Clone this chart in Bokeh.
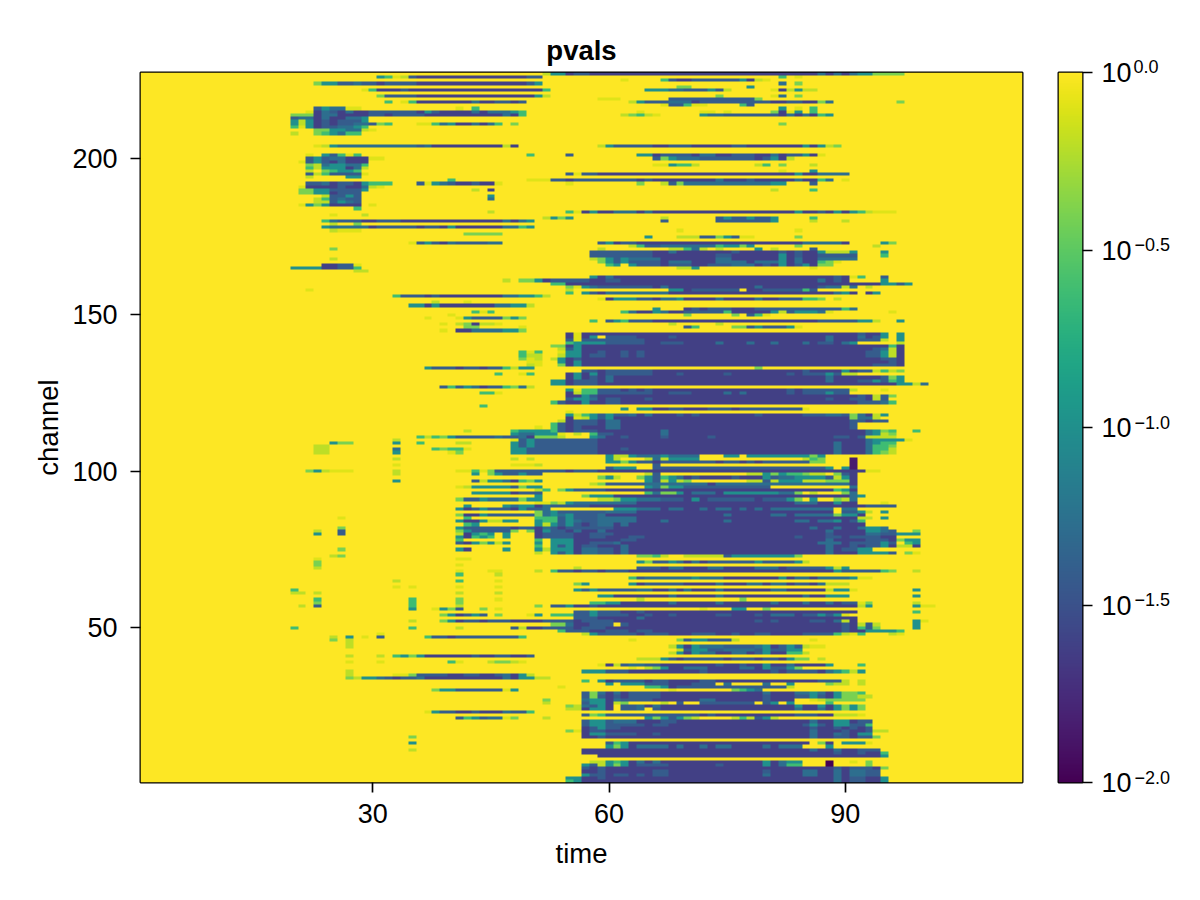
import numpy as np
from bokeh.embed import file_html
from bokeh.layouts import row
from bokeh.models import LinearAxis, LinearColorMapper, Range1d, FixedTicker
from bokeh.palettes import Viridis256
from bokeh.plotting import figure
from bokeh.resources import INLINE

TIMES = 112
CHANNELS = 227
X_TICKS = [30, 60, 90]
Y_TICKS = [50, 100, 150, 200]
CB_TICKS = [-2.0, -1.5, -1.0, -0.5, 0.0]
CB_EXP = ["\u22122.0", "\u22121.5", "\u22121.0", "\u22120.5"]
CB_TOP_EXP = "0.0"

# log10(p) of the letter codes used in the rows below
LEVELS = {"Y": 0.0, "P": -0.1, "H": -0.2, "L": -0.4, "G": -0.62, "T": -1.0,
          "B": -1.28, "M": -1.42, "D": -1.62, "V": -1.85, "A": -2.0}

ROWS_TOP = [
 (227, "52H 53-54T 55D 56-57M 58-86D 87B 88D 89B 90D 91B 92-93T 94-97L"),
 (226, "31T 32G 33P 34H 35M 36-49D 50-51M 82G 84P"),
 (225, "62P 67G 68M 69-70D 71-76M 77T 78D 79H 80P"),
 (224, "23L 24-25T 26-27M 28B 29-30M 31D 32-35M 36-49D 50M 51T 82B 84L"),
 (223, "69-70L 78T"),
 (222, "29P 30G 31-33D 34M 35-51D 52G 65-67T 68-69B 70-72M 73T 74M 75H 81P 82D 83H 84T 85-86H"),
 (220, "31L 32-35M 36-50D 51T 52H 74L 81P 82B 84L"),
 (219, "59-61P 68-78M 79L"),
 (218, "32G 34P 35G 36-42D 43B 44-45D 46-47M 48D 49M 63H 64T 65-67M 68-70B 71D 72-80M 81-82D 83-84M 85-86D 87L 88B 97L"),
 (217, "67P 68-69M 70G 71-72P 77G 78M"),
 (216, "23M 24T 25-26B 27-28P 41P 43G 82T 84P 86G"),
 (215, "22P 23D 24B 25M 26D 27B 28-29D 30-35M 36D 37T 38M 39-42D 43B 44D 45-47B 48T 49G 64P 72-73P 75P 81L 82D 83P 84T 86G"),
 (214, "20-22L 23D 24-25B 26-29D 30-31M 32D 33-36M 37-46D 47B 48D 49G 62H 63L 64G 65H 66P 72T 73-74B 75-81M 82D 83B 84D 85B 86D 87G 88T"),
 (213, "20M 21-22B 23D 24B 25-26D 27-28B 29T"),
 (212, "20T 21H 22T 23D 24M 25D 26-28M 29T"),
 (211, "20T 21H 22T 23D 24M 25D 26-27M 28-29B 30M 31L 32G 36-37P 38G 39B 40T 41-42D 43B 44D 45B 46G 48L 82L"),
 (210, "20G 21P 22T 23D 24-25M 26-27B 28T 29G"),
 (209, "23-24L 25-26T 27-28B 29H 30P"),
 (208, "20H 23L 24G 25T 26B 27-28G"),
 (204, "23P 24H 25T 26-35B 36M 37B 38-46D 47H 48D 59H 60T 61-65M 66-67D 68-70M 71-75D 76-77M 78-84D 85T 86D 87T 88H 89L"),
 (201, "22P 24T 25M 26G 27P 28G 50G 55M 64-65T 66D 67-70M 71D 72-73B 74-75D 76-78M 79-80D 81B 82D 83-84M 85T 86D 87P"),
 (200, "22M 23T 24M 25-26B 27-29D 30-31P 66M 67L 68T 69-71B 72-78M 79D 80M 81T 82D 83H"),
 (199, "21P 22M 23T 24M 25D 26B 27-29D"),
 (198, "22L 23H 24B 25-26T 27-28B 29G 66-67P 68T 69-70G 71H 79H 80G 82L 86H"),
 (197, "22G 23H 24-26T 27D 28B 29H"),
 (196, "22H 24L 25G 26-27T 28G 82P 86T"),
 (195, "22M 23H 24G 25-28M 29P 55M 56P 57-58M 59-83D 84T 85-86D 87-90B"),
 (194, "22H 27-28T"),
 (193, "40G 50-52P 53-54M 55D 56-63M 64D 65M 66-73D 74B 75-77D 78M 79-83D 84B 85-86D 87G 88B 90P"),
 (192, "22-23M 24B 25D 26-27M 28D 29T 30-32G 36M 37P 38T 39B 40M 41-42D 43M 44-45D 46P 55P 64L 67H 68M 69L 70-80B 81-82T 86M"),
 (191, "21P 22-25D 26M 27-28D 29B 30H 31P"),
 (190, "21-22L 23-24T 25-28M 29T 43H 45D 81H 86G"),
 (189, "21-22L 23-24T 25D 26-28M"),
 (188, "24H 25-26M 27T 28M 45T"),
 (187, "23H 24G 25M 26B 27-28M 45B"),
 (186, "23-24H 25M 26T 27B 28M"),
 (185, "21P 22T 23L 24T 25-28D 30P"),
 (184, "28G"),
 (183, "45H 55G 56P 57D 58T 59-60D 61-63B 64D 65B 66-83D 84T 85-86D 87M 88D 89T 90D 91T 92G 93H 94-96P"),
 (182, "25P 29H"),
 (181, "52H 53T 54L 55T 67H 74M 75T 76-77M 78T 79-80M 81T 86G"),
 (180, "24G 25B 26-28M 29-30D 31-33M 34-46D 47B 48D 49B 50T 67M 74-80M 81T 86H 90H"),
 (179, "25H 28L"),
 (178, "24T 25-29B 30D 31-35M 36D 37-38M 39D 40T 41-46D 47-48B 49G 50T"),
 (177, "25H 26-28P 69P 84P"),
 (176, "42-46L"),
 (175, "65T 69-71H 72-73M 74L 75T 76M 77-78P 84L"),
 (173, "35P 36M 37T 38M 39D 40B 41-44M 45-46B 59M 60T 61D 62-63M 64-84D 85-89B 90D 95T 96L"),
 (172, "63H 64G 65-66M 67-73B 74G 75-76T 77L 78T 84L 94H"),
 (171, "25L 59H 68-69H 70G 71B 72H 74H 79T 81H 86M"),
 (170, "58-65M 66-67D 68B 69-75D 76M 77-81D 82M 83D 84M 85-86D 87T 88-90H 91T 95T"),
 (169, "58-65M 66-73D 74-75M 76-81D 82T 83D 84M 85-86D 87-91M 95G"),
 (168, "25H 58H 59L 60T 61M 62T 63-66B 67-73D 74-75B 76-81D 82T 83D 84B 85-86D 87-91B"),
 (167, "59L 60T 61M 62T 63-66M 67D 68-70B 71-73D 74-77B 78D 79-81B 82T 83D 84B 85-86D 87G 88L 89P"),
 (166, "24-25D 26-27M 28P 60G 61T 63T 64-66M 67D 68-70M 71-72D 73-75M 76-78B 79D 80M 81D 82T 83D 84M 85T 86D 87-88L"),
 (165, "20-23T 24-25D 26-27M 28G 69-70H 71T 86P"),
 (164, "28-29H"),
 (162, "58T 59D 60B 61-88D 89M 90D 91P 92G 95M"),
 (161, "47H 49-50L 51T 52D 53-57M 58-59D 60-61M 62-86D 87B 88D 89M 90D 95T"),
 (160, "53-54G 55-94D 95-96T 97M 98T"),
 (159, "55L 56P 57T 58B 59-65M 66D 67B 68-78D 79B 80-86D 87M 88-89B 90H 91B 93H"),
 (158, "22P 55H 68-69T 70D 71-76M 78-79D 80-84M 85G 86M"),
 (157, "55G 57T 58M 59D 60-67B 68-88D 89B 90T 91D 93D 94T"),
 (156, "33G 34-36M 37D 38M 39-46D 47-48B 49-50T 51G 52H"),
 (155, "59P 60D 61-63T 64-65M 66D 67-68B 69T 70-73D 74B 75-78D 79B 80-81D 82-84M 85-86G 87L 89H"),
 (154, "38H 42P"),
 (153, "35-36T 37D 38T 39-45D 46-47B 48-49T 50H"),
]

ROWS_MID = [
 (152, "66T 70D 71M 72D 73-75M 76-78D 79-89M 90G 91B"),
 (151, "43G 44P 45G 62G 63B 64-65D 66T 67B 68-69D 70-74M 75G 76-80D 81T 82H 83M 84-86T 87B 88P 96P"),
 (150, "40P 70L 76L 78M 79G 80P"),
 (149, "37P 41P 42T 43-46M 47L 48T 49L"),
 (148, "58G 60M 61T 62G 63-65M 66-86D 87-91M 92-93T 94H 97T"),
 (147, "39P 41H 42L 43D 44-45H 46P 68H 74H"),
 (146, "42-43L 49P 70M 71G 76-77L 78M 79T 80-82M 83T 84P"),
 (145, "39P 41-42D 43-46B 47-48T 49L"),
 (144, "55D 56P 57-91D 92M 93-94D 95T 97T"),
 (143, "55D 56P 57D 58T 59Y 60-63M 64-67D 68M 69-87D 88B 89-91D 92B 93D 94M 95T 97T"),
 (142, "55M 56P 57-64M 65-87D 88B 89-91D 92-94M 95H 97T"),
 (141, "55G 56-59T 60-64M 65-66D 67-69M 70-73D 74B 75-77D 78B 79-80D 81B 82-84D 85B 86D 87-88M 89D 90B 91T 97H"),
 (140, "53-54L 55D 56T 57-95D 96G 97D"),
 (139, "54H 55M 56T 57-93D 94M 95B 96H 97D"),
 (138, "49G 50P 51G 54P 55-56T 57-92D 59M 62M 64M 93-94M 95T 96H 97D"),
 (137, "49G 50-51H 54H 55-56T 57D 58-59M 60-92D 62M 64M 93-94M 95T 96H 97D"),
 (136, "49L 50P 51H 53H 54T 55D 56M 57-94D 95-96M 97D"),
 (135, "50-51P 54T 55D 56T 57-95D 96M 97D"),
 (134, "50H 51P 54L 55D 56T 57-93D 94-96M 97D"),
 (133, "37T 38-40M 41D 42-43M 44D 45-46M 47G 48H 49-50T 79L"),
 (132, "57-58M 59D 60-65M 66-84D 85M 86-89D 90T 91D 92-93M 94H 95G 96H 97L"),
 (131, "46G 49P 50G 55D 56T 57D 58T 59D 60-65M 66-68D 69M 70-74D 75M 76-82D 83M 84D 85-87M 88T 89M 90-91H"),
 (130, "55D 56T 57D 58M 59-94D 60B 88B 95M 96L 97T"),
 (129, "53-54T 55D 56-58M 59-91D 60B 88B 92-93M 94T 95M 96G 97T"),
 (128, "53-54T 55D 56-58M 59-96D 97-98T 99H 100B"),
 (127, "39M 40G 41M 42T 43B 44D 45-46M 47G 48L 49B 50H"),
 (126, "55T 56P 57-58G 59-61M 62D 63M 64D 65M 66-82D 83M 84D 85-90M 91H 95P"),
 (125, "44-45G 46P 55D 56H 57-58G 59-65M 66-67D 68-70M 71-74D 75B 76D 77B 78-82D 83M 84D 85-87M 88T 89-90M"),
 (124, "55-56D 57T 58M 59-91D 92M 93D 94H 95M 96L"),
 (123, "55M 56-57T 58B 59D 60-61M 62-64D 65M 66-87D 88M 89-90D 91-92M 93D 94H 95M"),
 (122, "53G 54M 55-56D 57T 58-91D 60-61M 92-94M 95B 96G"),
 (121, "44G"),
 (120, "62T 64-65T 66-67D 68-69M 70-72D 73-75M 76D 77-84M 85P"),
 (119, "55P"),
 (118, "55T 56H 57G 58T 59M 60T 61-62M 63B 64D 65B 66-68D 69M 70D 71M 72-78D 79M 80-84D 85-87M 88-89B 90M 91L 92B 93D 94H 95T"),
 (117, "55D 56P 57H 58T 59M 60T 61-90D 91L 92-93B 94H"),
 (116, "54H 55D 56-58M 59D 60-61B 62-90D 91-92M 93D 94-95M"),
 (115, "53G 54M 55D 56-58M 59D 60-61B 62-90D 91M"),
 (114, "51P 53G 54M 55D 56M 57-59D 60-61B 62-90D 91M"),
 (113, "42H 48G 49-52T 53G 54M 55D 56-58M 59-66D 67B 68-92D 93B 94T 95L 96G 99G"),
 (112, "48T 49-50B 51-53T 54P 56H 58G 59-60M 61-66D 67B 68-92D 93B 94T 95H 96L"),
 (111, "36G 37H 38G 39L 40T 41-45M 46B 47-48M 49B 50D 51-53L 54H 58T 59B 60-61D 62M 63-66D 67M 68-72D 73M 74-88D 89-90M 91D 92M 93-96H"),
 (110, "33H 48P 49M 50T 51-58M 59-92D 93B 94-97T 98P"),
 (109, "25T 26-27L 33T 36G 41-42H 48T 49M 50T 51-58M 59-88D 89B 90-92D 93B 94T 95-96G"),
 (108, "23-24H 48T 49M 50T 51-58M 59-88D 89B 90-92D 93B 94-95G 96L"),
 (107, "23-24H 33B 38G 39L 40-41G 42P 48-49T 50-58M 59-61D 62M 63-88D 89B 90-92D 93B 94-95G 96H"),
 (106, "23-24H 33T 40P 41L 48-49T 50-58M 59-88D 89B 90-92D 93B 94G 95L 96H"),
 (105, "60T 61-62H 63T 64-66B 67T 68-71B 75-76T 78-85T 86L 87T"),
 (104, "33H 48H 50H 60T 61H 65H 66B 67H 68-71T 85H 86G 87L 91V"),
 (103, "60-61T 62L 63T 64-65M 66D 67-73M 74D 75-76M 77D 78M 79D 80-85M 86-87L 91V"),
 (102, "33P 48-50P 51H 66M 91V"),
 (101, "60M 61-63T 66M 67-87M 88T 90T 91V"),
 (100, "22L 23T 24H 25-27P 33H 41-42P 43G 44P 45L 46-54M 55D 56-58M 59-92D 93-94P"),
 (99, "33H 43T 45L 46T 47-48M 49T 50-51M 65H 66M 78-79H 80T 81L 82T 83-84G 85L 86-87H 89L 90M 91D"),
 (98, "59L 60T 61H 64L 65T 66M 67G 68T 69B 70D 71M 72-75D 76M 77-79D 80T 81M 82-83B 84-87T 88M 89H 90T 91D"),
 (97, "33T 43M 44H 45-46T 47B 48D 49G 50L 51T 65T 66M 67H 68T 69H 70L 78-79H 80M 81H 82-84T 85-87H 88-90L 91D"),
 (96, "58H 59L 60-64M 65-72B 73D 74-90B 91D"),
 (95, "41P 42H 43-47T 48M 49L 50-51T 65T 66B 67L 68-69T 70-80M 91B"),
 (94, "51H 52G 54L 55T 56-59M 60-88D 89G 90T 91D"),
 (93, "43-47T 48D 49-51M 65G 66B 67-68L 69T 70D 71-73B 74D 75-81T 82-83B 84L 86H 90L 91B"),
 (92, "51T 57L 58-60T 61-90D 91B 92T"),
 (91, "41L 42-43M 44T 45-48B 49L 50-51T 59-60H 61L 62-63T 64-66B 67-69M 70D 71T 72D 73-78M 79D 80-82M 83T 84L 86T 89L 90H 91B"),
 (90, "51-52P 53L 54H 55T 56-63B 64-83D 84-86B 87-88D 89T 90-91D 95P"),
 (89, "42T 47T 48B 49-50T 51D 52B 53-57M 58-92D 93-96M"),
 (88, "41T 42D 43M 44T 45-47M 48D 49T 50-51M 52B 61-63T 64-66B 67D 68-69B 70-71D 72B 73D 74-75B 76D 77B 78D 79B 80D 81-88B 90-91B"),
 (87, "51L 52B 53T 54-58M 59M 60-63B 64-88D 90-91M 92T 93H 95T"),
 (86, "41L 42-43D 44T 45-50M 51L 52B 53T 54B 55T 56-58M 59B 60-74D 75B 76-80D 81-82B 83D 84-88B 89L 90-91T 92D"),
 (85, "26P 42G 51-53G 54M 55T 56-58M 59-63B 64-91D 92-93H 95T"),
 (84, "41T 42-43D 44T 45-46H 47-48T 51T 52-53G 54M 55T 56B 57-58M 59-63B 64-66D 67B 68-74D 75B 76-83D 84-85B 86D 87-88B 89T 90D 91M 92G"),
 (83, "42G 43T 51T 52H 53T 54M 55T 56M 57D 58M 59-60B 61D 62B 63-92D"),
 (82, "26L 41T 42-47M 48D 49-50M 51D 52B 53M 54D 55-60M 61-85D 86B 87-88D 89B 90-91D 92B 93-94T 95B"),
 (81, "23H 26M 41L 42T 43-47M 48L 50L 51D 52T 53-54M 55D 56B 57-58D 59B 60-87D 88B 89-92D 93-94T 95B 96M 99L"),
 (80, "23T 26M 41H 42D 43T 44G 45T 47T 51D 52-55M 56-57D 58-60M 61-87D 88M 89-92D 93-94B 95-96M 97-99T"),
 (79, "41T 42D 43G 44T 45G 47T 51D 52-55M 56-57D 58-59M 60-62D 63-64M 65-83D 84M 85-87D 88-89M 90D 91-94M 95-96D"),
 (78, "41G 51G 53-55T 56-61D 62-63M 64-87D 88B 89-92D 93-95M 96D 97L 98-99T"),
]

ROWS_LOW = [
 (77, "41M 42D 43T 44L 45T 46H 47T 51T 53-55T 56-57D 58-60M 61B 62-86D 87-89B 90D 91-94M 95T 96M 98G 99T"),
 (76, "51G 53T 54M 55T 56D 57-58M 59-61D 62B 63-87D 88B 89-90D 91M 92D 93-94M 95T 96D 97-98H 99D"),
 (75, "26L 41T 42D 47T 51T 52H 53-55T 56D 57-58B 59-60M 61D 62B 63-87D 88B 89D 90-91M 92-93T"),
 (74, "51H 53T 54M 55T 56D 57-58B 59-60M 61D 62B 63-87D 88B 89D 90-91D 92-95T 96M 98L 99P"),
 (73, "25H 26L 64-65L 66G 67H 70-74H 75M 76T 77-82T 83T 84L"),
 (72, "23P 41-42P"),
 (71, "23L 64T 65L 66-67M 68T 69B 70D 71B 72D 73-78M 79T 80-83M 84T 85H"),
 (70, "23L 41P"),
 (69, "23H 56H 64-66M 67D 68-69B 70-72D 73-74B 75-78D 79-81B 82D 83-87M 88T 89H 90T"),
 (68, "41P 45-46P 51H 53G 54-55M 56D 57-58M 59D 60-62M 63-87D 88D 89T 90-94M 95G 96L 99H"),
 (67, "41G 46H"),
 (66, "63G 64M 65-70B 71T 72-74B 75-81D 82T 83D 84-85B 86D 87-90B 91T 92-93P"),
 (65, "33H 41G 46P"),
 (64, "56L 57T 63T 64D 65-69M 70-73D 74B 75-77D 78-79B 80D 81-82B 83D 84-85M 86D 87B 88H 89-90H"),
 (63, "33P 35P 41P 46P"),
 (62, "20G 56T 57M 58T 59-63M 64-65B 66-67D 68B 69D 70B 71-73D 74B 75-80D 81-82B 83-87D 88H 89-90T 91P 99T"),
 (61, "20-21H 23H 41H 46H"),
 (60, "59-60T 61-67D 68B 69-73D 74B 75-84D 85B 86-87D 88-90T 99T"),
 (59, "23G 35G 41L 46P 64H 77L"),
 (58, "23L 35G 41L 58-59G 60-61T 62-67D 68B 69-73D 74B 75-80D 81B 82-84D 85B 86-87D 88B 89D 90-91M 92P 93L 99H"),
 (57, "21H 23M 35G 41H 51L 53-54M 55T 56-57D 58M 59-91D 92H 93T 99T 100-101P"),
 (56, "35T 38P 39T 40L 41M 44L 46P 72P 76-77T 80L"),
 (55, "56-57M 58T 59-91D 59-61M 64M 99G"),
 (54, "39L 40T 41D 42M 43T 44M 46L 50P 51T 53-55G 56-57M 58T 59-62M 63-64D 65M 66-67D 68M 69-73D 74-75M 76-78D 79M 80D 81-83B 84D 85-86M 87T 88M 89T 90P"),
 (53, "56-58M 59-91D 64B"),
 (52, "35H 39L 40T 41D 42-43M 44D 45-47M 48-51D 52-55M 56D 57-60M 61-78D 79M 80D 81M 82-85D 86-87M 88D 89B 90H 91D 99T 100P"),
 (51, "53-54L 55B 56-57D 58-60M 62M 63-89D 90M 91D 92H 93M 94H 99T"),
 (50, "20G 35G 41H 48M 49H 50-51D 52-55M 56D 57-59M 60D 61-89D 90M 91D 92G 93M 94L 99T"),
 (49, "54G 55-57M 58-59D 60-62M 63D 64-65M 66-89D 90M 91-92D 93-96T 97G"),
 (48, "31P 57H 58T 59-60M 61-63M 64D 65-67M 68-70D 71-73M 74-75D 76M 77-78D 79-80M 81-84D 85-88M 89G 90H 91P 92G 96H 97P"),
 (47, "25H 27T 29P 31M 37G 38-39M 40D 41-48M 49G"),
 (46, "25L 27H 63P 69L 70M 71-72T 73-75M 76H 86P"),
 (45, "27H"),
 (44, "27H 68H 69T 70D 71T 72-74B 75-78M 79B 80T 81D 82M 83T 84M 85H 86-87P"),
 (43, "69H 70M 71-72T 73-74M 75-78B 79M 80T 81-82M 83-84T"),
 (42, "68H 69T 70D 71T 72-73B 74-75D 76-77B 78D 79M 80T 81-82D 83-84G 85H"),
 (41, "27H 31H 33G 34T 35L 36T 37-42D 43M 44-45D 46-47M 48-49D 50M"),
 (40, "64-66H 67T 68M 69D 70-74M 75D 76-78M 79D 80-81M 82D 83T 84-85L 87H"),
 (39, "27P 31P 40G 41P 45H 46-47L 48H 49P"),
 (38, "59P 60D 61H 62M 63-64B 65-66M 67-73D 74M 75-76D 77M 78-79D 80T 81-82D 83B 84-87D 88T 92G"),
 (37, "63P 65H 66L 67T 68-69D 70-72B 73-76D 77-78B 79D 80T 81-82M 83T 84L"),
 (36, "27H 57-58T 59T 60-62M 63-71D 72M 73-80D 81M 82D 83-86M 87D 88B 89T 90G 91H 92T"),
 (35, "27H 33-34P 35L 36-39M 40-41D 42-43M 44-45D 46M 47B 48D 49T 50H"),
 (34, "27L 28H 29-30T 31B 32M 33D 34-35M 36B 37-46D 47B 48D 49-50T 51-52H"),
 (33, "57G 59T 60D 61-64M 65D 66-67M 68-71D 72-73M 74-86D 87-89M 90H 92H"),
 (32, "60T 62-64T 65-67M 68-70D 71-73M 75B 80B 83T 88L 89-90H 92H"),
 (31, "54P 65-66G 67T 68D 69-82M 83H"),
 (30, "38L 39-40T 41-46M 47P 48T 68P 76L 77G 78T 79B"),
 (29, "57M 58L 59B 60D 61B 62D 63-66M 67-79D 80B 81-83D 84-85B 86T 87B 88D 89T 90-91L 92G"),
 (28, "57M 58L 59M 60D 61M 62D 63-66M 67-79D 80M 81-83D 84-85M 86T 87M 88D 89T 90-91L 92-93H"),
 (27, "52L 57B 58-59T 60D 61B 62-65M 66-71D 72-73B 74-79D 80M 81-83D 86P 87H 88-92L"),
 (26, "52H 57M 58-59T 60D 61H 62L 67H 69M 72-78M 80M 81T 83T 88G"),
 (25, "55L 56H 57B 58M 59T 60D 62-63M 64B 65D 66B 67-83D 84T 85-86D 87T 88D 89T 90L 91T 92L"),
 (24, "55-56H 57D 58-59T 60D 62-63M 64B 66M 67-83D 84B 85-86D 87B 88D 89T 90L 91T 92L"),
 (23, "37P 38T 39-40M 41-42D 43M 44-46D 47B 48-49M 50G"),
 (22, "57M 58L 59G 60-71M 72D 73M 74-83D 84-86M 87-88D 89-91H 92P"),
 (21, "41M 42G 43T 44M 45-46B 47P 48L 52H 65T 66L 67T 68M 69T 70L 71H 76H 77G 78H 79M 80T 81H"),
 (20, "57M 58-59T 60M 61-63B 64-66D 67-68M 69-85D 86B 87-88D 89-90T 91D 92-93M"),
 (19, "57M 58-59T 60-63M 64M 65D 66-67M 68-84D 85-87M 86T 88D 89-90T 91-92M 93G"),
 (18, "57D 58M 59T 60-61M 62-85D 86M 87-88D 89M 90D 91M 92D 93M"),
 (17, "55L 56P 57D 58-59M 60-85D 86B 87-89D 90M 91-92D 93M 94-95H"),
 (16, "57D 58-59T 60-63M 64-65D 66M 67-85D 86B 87-88D 89B 90M 91D 92-93T"),
 (15, "35L 57-59D 59M 60-85D 86B 87-88D 89-90M 91D 92-93M 94L"),
 (13, "35T 60M 61G 62T 63-85D 87L 88D 90-92T 93P"),
 (12, "60T 61L 62T 63D 64-67B 68D 69B 70-71D 72B 73D 74-75B 76-79D 80B 81D 82-84B 88T"),
 (11, "35H 57-85D 86B 87-88D 89B 90-91D 92-94M"),
 (10, "57-88D 89M 90-91D 92M 93-94D 95G"),
 (9, "59-94D 95T"),
 (7, "58H 59H 60T 61G 62T 63D 64B 65D 66B 67-79D 80T 81D 82B 83-84T 88A 91P 93L"),
 (6, "57T 58M 59H 60T 61L 62T 63D 64-67M 68-73D 74M 75-79D 80T 81D 82B 83-84G 88A 93L"),
 (5, "57M 58D 59M 60-88D 89M 90D 91-93M 94D 95L"),
 (4, "57-58D 59M 60-65D 66-67M 68-79D 80M 81-84D 85-86B 87-88D 89B 90D 91-92B 93-94M"),
 (3, "57T 58-59M 60D 61-62M 63D 64M 65D 66-67M 68-79D 80B 81-84D 85-86B 87-88D 89B 90D 91-92B 93-94M"),
 (2, "55-56T 57-88D 59M 89B 90D 91-92M 93-94D 95T"),
 (1, "55G 56T 57-88D 89B 90D 91-92M 93-94D 95T"),
]


def build_matrix():
    z = np.zeros((CHANNELS, TIMES))
    for rows in (ROWS_TOP, ROWS_MID, ROWS_LOW):
        for ch, runs in rows:
            for run in runs.split():
                code = run[-1]
                span = run[:-1].split("-")
                lo, hi = int(span[0]), int(span[-1])
                z[ch - 1, lo - 1:hi] = LEVELS[code]
    return z


FONT = "Liberation Sans"
TICK_FS = "27px"
LABEL_FS = "27.5px"

p = figure(width=1040, height=888, output_backend="svg", toolbar_location=None,
           x_range=Range1d(0.5, TIMES + 0.5), y_range=Range1d(0.5, CHANNELS + 0.5),
           min_border_left=140, min_border_right=18, min_border_top=72, min_border_bottom=106,
           title="pvals", x_axis_label="time", y_axis_label="channel")
mapper = LinearColorMapper(palette=Viridis256, low=-2, high=0)
p.image(image=[build_matrix()], x=0.5, y=0.5, dw=TIMES, dh=CHANNELS, color_mapper=mapper)
p.grid.visible = False
p.title.align = "center"
p.title.text_font = FONT
p.title.text_font_size = LABEL_FS
p.title.text_font_style = "bold"
p.title.text_color = "black"
p.title.standoff = 13
p.outline_line_color = "black"
p.outline_line_width = 2
p.outline_line_alpha = 1
p.xaxis.ticker = FixedTicker(ticks=X_TICKS)
p.yaxis.ticker = FixedTicker(ticks=Y_TICKS)
for ax in (p.xaxis[0], p.yaxis[0]):
    ax.axis_line_color = None
    ax.major_tick_in = 0
    ax.major_tick_out = 10
    ax.major_tick_line_width = 1.67
    ax.major_tick_line_color = "black"
    ax.minor_tick_line_color = None
    ax.major_label_text_font = FONT
    ax.major_label_text_font_size = TICK_FS
    ax.major_label_text_color = "black"
    ax.axis_label_text_font = FONT
    ax.axis_label_text_font_size = LABEL_FS
    ax.axis_label_text_font_style = "normal"
    ax.axis_label_text_color = "black"
p.xaxis[0].major_label_standoff = 11
p.xaxis[0].axis_label_standoff = 12
p.yaxis[0].major_label_orientation = "horizontal"
p.yaxis[0].major_label_standoff = 13
p.yaxis[0].axis_label_standoff = 5

px = 2 / 710
cb = figure(width=152, height=888, output_backend="svg", toolbar_location=None,
            x_range=Range1d(0, 24), y_range=Range1d(-2, 0),
            min_border_left=18, min_border_right=110, min_border_top=72, min_border_bottom=106,
            x_axis_location=None, y_axis_location="right",
            title=CB_TOP_EXP)
cb.image(image=[np.linspace(-2, 0, 256).reshape(-1, 1)], x=0, y=-2, dw=24, dh=2, color_mapper=mapper)
cb.grid.visible = False
cb.outline_line_color = "black"
cb.outline_line_width = 2
cb.outline_line_alpha = 1
cb.title.align = "left"
cb.title.offset = 75
cb.title.standoff = 0
cb.title.text_font = FONT
cb.title.text_font_size = "18px"
cb.title.text_font_style = "normal"
cb.title.text_color = "black"
ay = cb.yaxis[0]
ay.ticker = FixedTicker(ticks=CB_TICKS)
ay.major_label_overrides = {t: "10" for t in CB_TICKS}
ay.axis_line_color = None
ay.major_tick_in = 0
ay.major_tick_out = 10
ay.major_tick_line_width = 1.67
ay.major_tick_line_color = "black"
ay.minor_tick_line_color = None
ay.major_label_text_font = FONT
ay.major_label_text_font_size = TICK_FS
ay.major_label_text_color = "black"
ay.major_label_standoff = 9

# exponents: a second axis whose range is shifted so its labels sit raised
shift = 5.5 * px
cb.extra_y_ranges = {"exp": Range1d(-2 - shift, -shift)}
ax2 = LinearAxis(y_range_name="exp", ticker=FixedTicker(ticks=CB_TICKS[:-1]),
                 major_label_overrides=dict(zip(CB_TICKS[:-1], CB_EXP)),
                 axis_line_color=None, major_tick_line_color=None, minor_tick_line_color=None,
                 major_tick_out=0, major_tick_in=0, major_label_standoff=0,
                 major_label_text_font=FONT, major_label_text_font_size="18px",
                 major_label_text_color="black")
cb.add_layout(ax2, "right")

open("out.html", "w").write(file_html(row(p, cb, spacing=0), INLINE))
